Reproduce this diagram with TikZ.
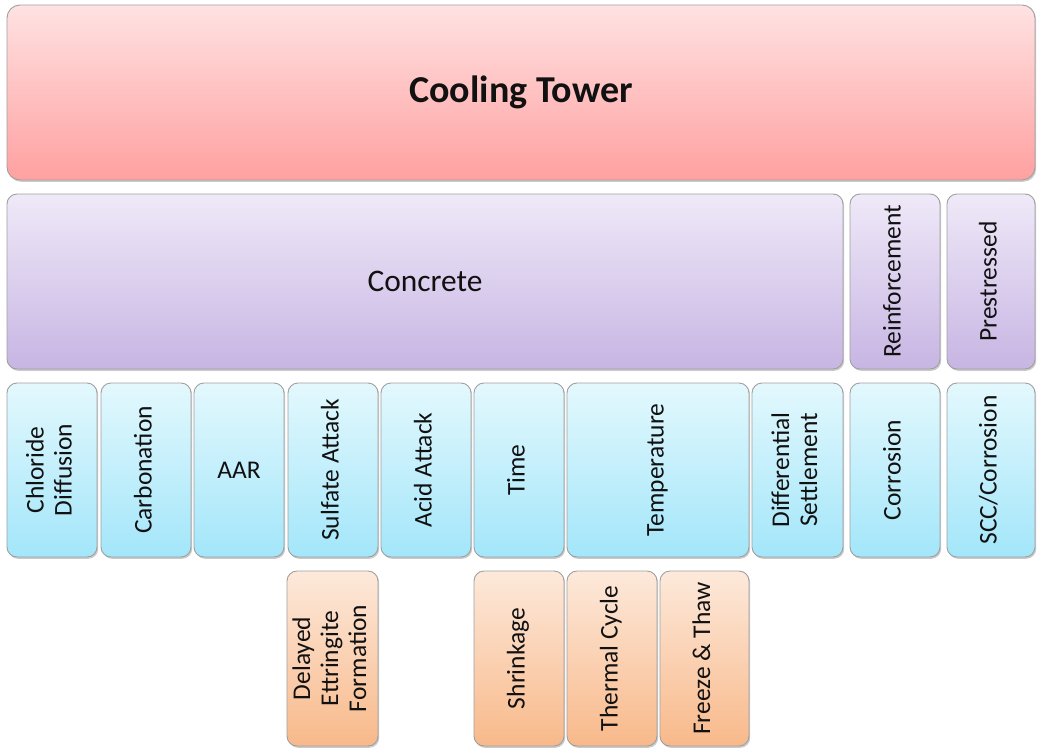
\documentclass[tikz,border=0pt]{standalone}
\usepackage{fontspec}
\setmainfont{Carlito}
\usetikzlibrary{shadows}
\definecolor{bordergray}{HTML}{A0A0A0}
\definecolor{pinkT}{HTML}{FFE2E2}
\definecolor{pinkB}{HTML}{FFA0A0}
\definecolor{purT}{HTML}{EFE9F8}
\definecolor{purB}{HTML}{C7B5E3}
\definecolor{cyT}{HTML}{E3F8FD}
\definecolor{cyB}{HTML}{A3E6FA}
\definecolor{orT}{HTML}{FDE9DB}
\definecolor{orB}{HTML}{F8B98A}
\definecolor{txt}{HTML}{111111}
\newcommand{\rtext}[1]{\rotatebox{90}{\begin{tabular}{@{}c@{}}#1\end{tabular}}}
\tikzset{
  basebox/.style={draw=bordergray, line width=0.9pt, rounded corners=10pt, inner sep=0pt,
    text=txt, font=\fontsize{25.5}{28}\selectfont,
    drop shadow={shadow xshift=1.2pt, shadow yshift=-1.8pt, opacity=0.35, fill=black!60}},
  pinkbox/.style={basebox, top color=pinkT, bottom color=pinkB, rounded corners=13pt},
  purbox/.style={basebox, top color=purT, bottom color=purB},
  cybox/.style={basebox, top color=cyT, bottom color=cyB},
  orbox/.style={basebox, top color=orT, bottom color=orB},
}
\begin{document}
\begin{tikzpicture}[x=1pt,y=-1pt]
\useasboundingbox (0,0) rectangle (1037,750);
% top
\node[pinkbox, minimum width=1028pt, minimum height=175pt, font=\fontsize{38}{42}\selectfont\bfseries] (tower) at (521,92.5) {Cooling Tower};
% second row
\node[purbox, minimum width=836pt, minimum height=175pt, font=\fontsize{31.4}{35}\selectfont] (concrete) at (425,281.5) {Concrete};
\node[purbox, minimum width=90pt, minimum height=175pt] (reinf) at (895,281.5) {\rtext{Reinforcement}};
\node[purbox, minimum width=88pt, minimum height=175pt] (prest) at (991,281.5) {\rtext{Prestressed}};
% third row
\node[cybox, minimum width=90pt, minimum height=174pt] (chl) at (52,470) {\rtext{Chloride\\Diffusion}};
\node[cybox, minimum width=90pt, minimum height=174pt] (carb) at (146,470) {\rtext{Carbonation}};
\node[cybox, minimum width=90pt, minimum height=174pt] (aar) at (239,470) {AAR};
\node[cybox, minimum width=90pt, minimum height=174pt] (sulf) at (333,470) {\rtext{Sulfate Attack}};
\node[cybox, minimum width=90pt, minimum height=174pt] (acid) at (426,470) {\rtext{Acid Attack}};
\node[cybox, minimum width=90pt, minimum height=174pt] (time) at (519,470) {\rtext{Time}};
\node[cybox, minimum width=182pt, minimum height=174pt] (temp) at (658,470) {\rtext{Temperature}};
\node[cybox, minimum width=91pt, minimum height=174pt] (diff) at (797.5,470) {\rtext{Differential\\Settlement}};
\node[cybox, minimum width=90pt, minimum height=174pt] (corr) at (895,470) {\rtext{Corrosion}};
\node[cybox, minimum width=88pt, minimum height=174pt] (scc) at (991,470) {\rtext{SCC/Corrosion}};
% fourth row
\node[orbox, minimum width=91pt, minimum height=175pt] (def) at (332.5,658.5) {\rtext{Delayed\\Ettringite\\Formation}};
\node[orbox, minimum width=90pt, minimum height=175pt] (shr) at (519,658.5) {\rtext{Shrinkage}};
\node[orbox, minimum width=90pt, minimum height=175pt] (therm) at (612,658.5) {\rtext{Thermal Cycle}};
\node[orbox, minimum width=89pt, minimum height=175pt] (freeze) at (704.5,658.5) {\rtext{Freeze \& Thaw}};
\end{tikzpicture}
\end{document}
